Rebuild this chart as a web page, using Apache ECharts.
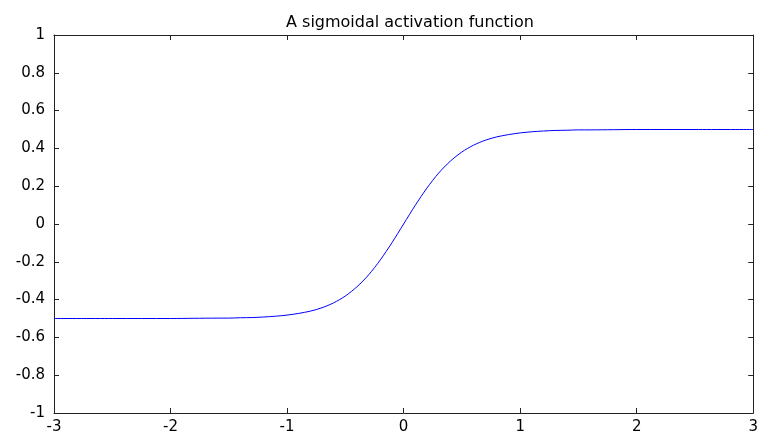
<!DOCTYPE html>
<html>
<head>
<meta charset="utf-8">
<script src="https://cdn.jsdelivr.net/npm/echarts@6/dist/echarts.min.js"></script>
<style>
html,body{margin:0;padding:0;background:#fff;}
#c{width:761px;height:435px;}
</style>
</head>
<body>
<div id="c"></div>
<script>
var titleText = "A sigmoidal activation function";
var xTicks = [-3, -2, -1, 0, 1, 2, 3];
var yTicks = [-1, -0.8, -0.6, -0.4, -0.2, 0, 0.2, 0.4, 0.6, 0.8, 1];
var xs = [-3, -2.5, -2, -1.8, -1.6, -1.5, -1.4, -1.3, -1.2, -1.1, -1, -0.9, -0.8, -0.7, -0.6, -0.5, -0.4, -0.3, -0.2, -0.1, 0,
          0.1, 0.2, 0.3, 0.4, 0.5, 0.6, 0.7, 0.8, 0.9, 1, 1.1, 1.2, 1.3, 1.4, 1.5, 1.6, 1.8, 2, 2.5, 3];
var ys = [-0.5, -0.5, -0.5, -0.499, -0.498, -0.498, -0.496, -0.495, -0.492, -0.488, -0.482, -0.473, -0.461, -0.443, -0.417, -0.381, -0.332, -0.269, -0.190, -0.099, 0,
          0.099, 0.190, 0.269, 0.332, 0.381, 0.417, 0.443, 0.461, 0.473, 0.482, 0.488, 0.492, 0.495, 0.496, 0.498, 0.498, 0.499, 0.5, 0.5, 0.5];

var chart = echarts.init(document.getElementById('c'), null, {renderer: 'canvas'});
var font = 'DejaVu Sans, Liberation Sans, sans-serif';
var fmt = function (v) { return String(Number(v.toFixed(1))); };
var axisLine = {show: true, onZero: false, lineStyle: {color: '#222', width: 1}};
var tick = {show: true, inside: true, length: 5, lineStyle: {color: '#222', width: 1}};
var data = xs.map(function (x, i) { return [x, ys[i]]; });

chart.setOption({
  animation: false,
  backgroundColor: '#fff',
  title: {
    text: titleText,
    left: 405, top: 10, textAlign: 'center',
    textStyle: {fontFamily: font, fontSize: 16, fontWeight: 'normal', color: '#000'}
  },
  grid: {left: 54, right: 5, top: 35, bottom: 21, containLabel: false},
  xAxis: [
    {type: 'value', position: 'bottom', min: xTicks[0], max: xTicks[xTicks.length - 1], interval: 1,
     axisLine: axisLine, axisTick: tick, splitLine: {show: false},
     axisLabel: {show: true, margin: 7, color: '#000', fontFamily: font, fontSize: 15, formatter: fmt}},
    {type: 'value', position: 'top', min: xTicks[0], max: xTicks[xTicks.length - 1], interval: 1,
     axisLine: axisLine, axisTick: tick, splitLine: {show: false}, axisLabel: {show: false}}
  ],
  yAxis: [
    {type: 'value', position: 'left', min: yTicks[0], max: yTicks[yTicks.length - 1], interval: 0.2,
     axisLine: axisLine, axisTick: tick, splitLine: {show: false},
     axisLabel: {show: true, margin: 9, color: '#000', fontFamily: font, fontSize: 15, formatter: fmt}},
    {type: 'value', position: 'right', min: yTicks[0], max: yTicks[yTicks.length - 1], interval: 0.2,
     axisLine: axisLine, axisTick: tick, splitLine: {show: false}, axisLabel: {show: false}}
  ],
  series: [{
    type: 'line',
    xAxisIndex: 0, yAxisIndex: 0,
    data: data,
    showSymbol: false,
    smooth: 0.3,
    lineStyle: {color: '#0000ff', width: 1},
    itemStyle: {color: '#0000ff'}
  }]
});
</script>
</body>
</html>
